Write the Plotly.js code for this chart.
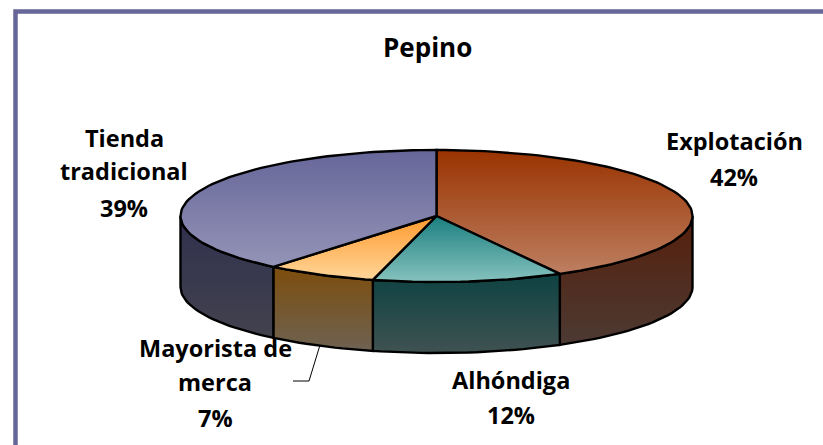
<!DOCTYPE html>
<html><head><meta charset="utf-8">
<script src="https://cdn.plot.ly/plotly-3.0.1.min.js"></script>
<style>html,body{margin:0;padding:0;background:#fff;overflow:hidden}</style>
</head><body><div id="chart" style="width:823px;height:445px"></div>
<script>
const categories = ["Explotación","Alhóndiga","Mayorista de merca","Tienda tradicional"];
const values = [42,12,7,39];
const topColors = [["#993300","#bd7f61"],["#1a7f7f","#86c2be"],["#ff9a2e","#ffd699"],["#666699","#9494b8"]];
const wallColors = [["#561f0c","#4c3a33"],["#0e4242","#405252"],["#7d4d0c","#6e6252"],["#30304e","#42424e"]];
const labelLines = [["Explotación"],["Alhóndiga"],["Mayorista de","merca"],["Tienda","tradicional"]];
const labelX = [734,511,215,124];
const labelY = [[141,177],[380,415],[348,382,418],[138,171,208]];
const leaderX = [320,309,293], leaderY = [345,381,381];
const cx=436.5, cy=216, rx=256, ry=66, depth=71;
const total = values.reduce((a,b)=>a+b,0);
const font = {family:"Open Sans",size:23.5,color:"#000",weight:700};

function pt(t,d){const a=t/total*2*Math.PI;return [cx+rx*Math.sin(a),cy-ry*Math.cos(a)+(d||0)];}
function arc(t0,t1,d){const n=Math.max(2,Math.ceil(Math.abs(t1-t0)*2)),o=[];
  for(let i=0;i<=n;i++)o.push(pt(t0+(t1-t0)*i/n,d));return o;}
function trace(poly,cols){
  const ys=poly.map(p=>p[1]);
  return {type:"scatter",mode:"lines",x:poly.map(p=>p[0]),y:ys,fill:"toself",hoverinfo:"skip",showlegend:false,
    line:{color:"#000",width:2.4,shape:"linear"},
    fillgradient:{type:"vertical",start:Math.min(...ys),stop:Math.max(...ys),colorscale:[[0,cols[0]],[1,cols[1]]]}};
}
const walls=[],tops=[];let acc=0;
values.forEach((v,i)=>{
  const t0=acc,t1=acc+v;acc=t1;
  const a=Math.max(t0,total*0.25),b=Math.min(t1,total*0.75);
  if(a<b){const up=arc(a,b,0),dn=arc(b,a,depth);const p=up.concat(dn);p.push(up[0]);walls.push(trace(p,wallColors[i]));}
  const p=[[cx,cy]].concat(arc(t0,t1,0));p.push([cx,cy]);tops.push(trace(p,topColors[i]));
});
const leader={type:"scatter",mode:"lines",x:leaderX,y:leaderY,line:{color:"#000",width:1},hoverinfo:"skip",showlegend:false};
const annotations=[];
values.forEach((v,i)=>{
  const lines=labelLines[i].concat([v+"%"]);
  lines.forEach((s,j)=>annotations.push({x:labelX[i],y:labelY[i][j],xref:"x",yref:"y",text:s,showarrow:false,font:font,xanchor:"center",yanchor:"middle"}));
});
annotations.push({x:427,y:47,xref:"x",yref:"y",text:"Pepino",showarrow:false,font:Object.assign({},font,{size:26}),xanchor:"center",yanchor:"middle"});
Plotly.newPlot("chart",[leader].concat(walls,tops),{
  width:823,height:445,margin:{l:0,r:0,t:0,b:0},paper_bgcolor:"#fff",plot_bgcolor:"#fff",showlegend:false,
  xaxis:{range:[0,823],visible:false,fixedrange:true},
  yaxis:{range:[445,0],visible:false,fixedrange:true},
  shapes:[{type:"rect",xref:"x",yref:"y",x0:15.5,y0:11.5,x1:835,y1:460,line:{color:"#666699",width:4.5},fillcolor:"rgba(0,0,0,0)",layer:"below"}],
  annotations:annotations
},{displayModeBar:false,staticPlot:true});
</script></body></html>
